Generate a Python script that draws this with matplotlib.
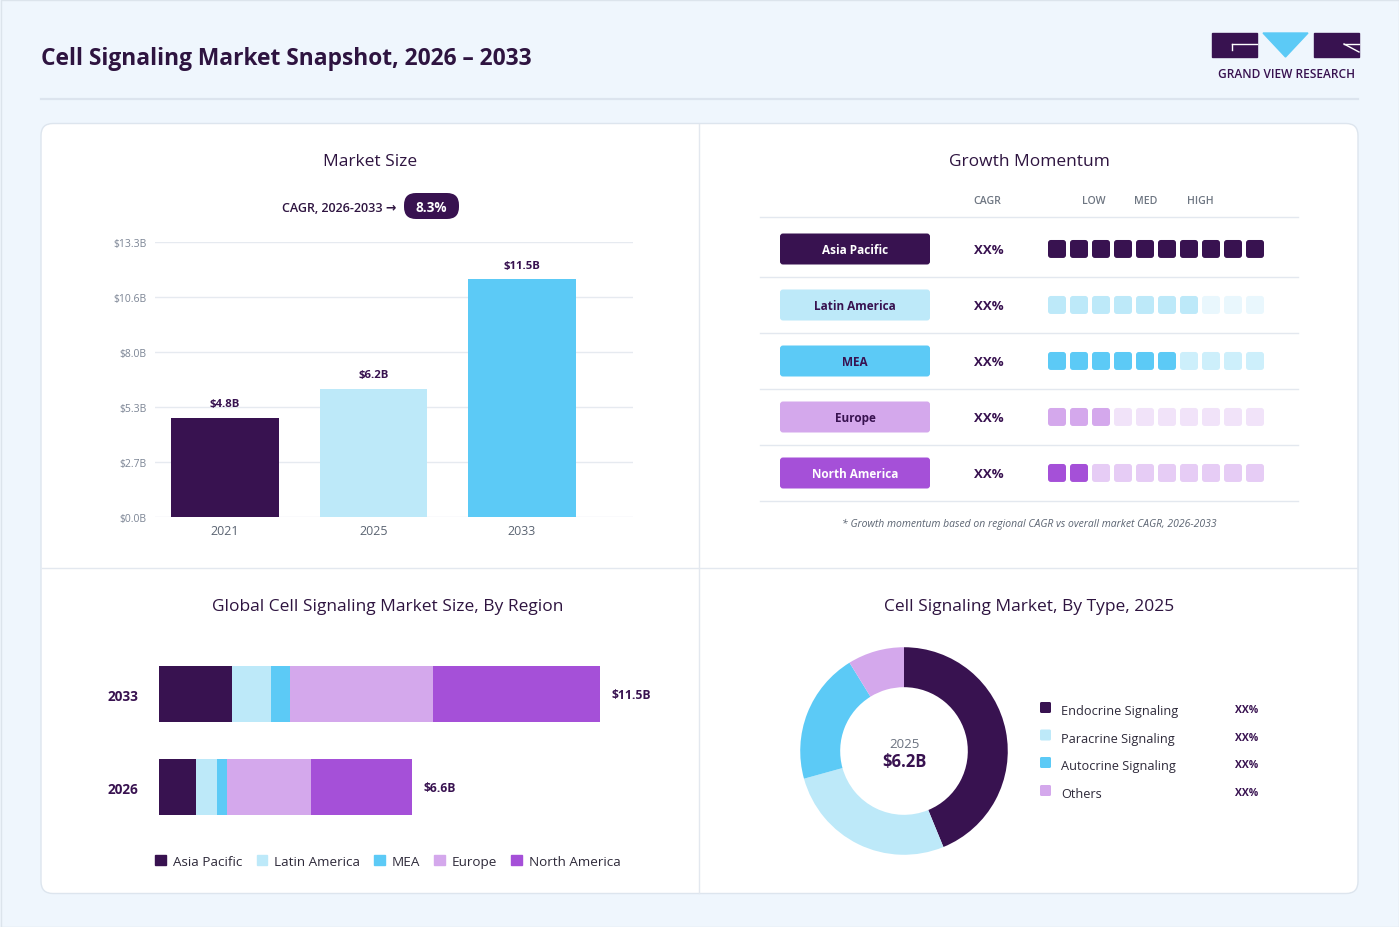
import matplotlib
matplotlib.use("Agg")
import matplotlib.pyplot as plt
from matplotlib.patches import FancyBboxPatch, Rectangle, Polygon, Patch
import numpy as np

# ---------------- data ----------------
years = ["2021", "2025", "2033"]
market_size = [4.8, 6.2, 11.5]
size_labels = ["$4.8B", "$6.2B", "$11.5B"]
ytick_values = [0.0, 2.66, 5.32, 7.98, 10.64, 13.3]
ytick_labels = ["$0.0B", "$2.7B", "$5.3B", "$8.0B", "$10.6B", "$13.3B"]
cagr_label = "CAGR, 2026-2033 \u2192"
cagr_value = "8.3%"

regions = ["Asia Pacific", "Latin America", "MEA", "Europe", "North America"]
momentum_cagr = ["XX%", "XX%", "XX%", "XX%", "XX%"]
momentum_filled = [10, 7, 6, 3, 2]
momentum_total = 10
momentum_headers = ["CAGR", "LOW", "MED", "HIGH"]

region_years = ["2026", "2033"]
asia_pacific = [0.97, 1.90]
latin_america = [0.54, 1.02]
mea = [0.27, 0.49]
europe = [2.19, 3.74]
north_america = [2.63, 4.35]
region_total_labels = ["$6.6B", "$11.5B"]

types = ["Endocrine Signaling", "Paracrine Signaling", "Autocrine Signaling", "Others"]
type_shares = [43.8, 26.9, 20.5, 8.8]
type_labels = ["XX%", "XX%", "XX%", "XX%"]
donut_year = "2025"
donut_total = "$6.2B"

# ---------------- style ----------------
DARK = "#381250"
LIGHT = "#BDE9F9"
SKY = "#5CCAF6"
LAV = "#D4A8EC"
PURP = "#A550D8"
region_colors = [DARK, LIGHT, SKY, LAV, PURP]
faded_colors = ["#D9D0E0", "#E9F7FD", "#CDEFFB", "#F1E3F9", "#E6CCF5"]
pill_text = ["white", DARK, DARK, DARK, "white"]
BG = "#EFF6FD"
TITLE = "#2E1440"
LINE = "#E3E8EF"

plt.rcParams["font.family"] = ["Open Sans", "DejaVu Sans"]

W, H = 1399, 928
fig = plt.figure(figsize=(W / 100, H / 100), dpi=100, facecolor=BG)


def add_ax(x0, y0, x1, y1, z=2):
    a = fig.add_axes([x0 / W, 1 - y1 / H, (x1 - x0) / W, (y1 - y0) / H])
    a.set_zorder(z)
    a.patch.set_alpha(0)
    return a


# background / layout axes in pixel coordinates
bg = fig.add_axes([0, 0, 1, 1])
bg.set_zorder(0)
bg.set_xlim(0, W)
bg.set_ylim(H, 0)
bg.axis("off")

bg.add_patch(Rectangle((0.5, 0.5), W - 1, H - 1, fc="none", ec="#DCE4EC", lw=1))
bg.text(41, 59, "Cell Signaling Market Snapshot, 2026 \u2013 2033", fontsize=16.4,
        fontweight="bold", color=TITLE, va="center", ha="left")
bg.plot([41, 1358], [99.5, 99.5], color="#DCE4EE", lw=1.6)

# logo
bg.add_patch(Rectangle((1212, 34), 45, 24, color=DARK))
bg.plot([1232, 1257], [45, 45], color="white", lw=1.0)
bg.plot([1232, 1232], [45, 51], color="white", lw=1.0)
bg.add_patch(Polygon([(1263, 34), (1308, 34), (1285.5, 58)], closed=True, color=SKY))
bg.add_patch(Rectangle((1314, 34), 45, 24, color=DARK))
bg.plot([1344, 1359], [45, 45], color="white", lw=1.0)
bg.plot([1344, 1359], [45, 53], color="white", lw=1.0)
bg.text(1286, 75, "GRAND VIEW RESEARCH", fontsize=8.6, fontweight="semibold",
        color=DARK, ha="center", va="center")

# card
bg.add_patch(FancyBboxPatch((41, 124.5), 1317, 770, boxstyle="round,pad=0,rounding_size=12",
                            fc="white", ec="#DDE5EE", lw=1))
bg.plot([699, 699], [125, 894], color=LINE, lw=1)
bg.plot([42, 1357], [568.5, 568.5], color=LINE, lw=1)

# panel titles
bg.text(370, 162.5, "Market Size", fontsize=12.5, color=TITLE, ha="center", va="center")
bg.text(1029, 162.5, "Growth Momentum", fontsize=12.5, color=TITLE, ha="center", va="center")
bg.text(388, 607.5, "Global Cell Signaling Market Size, By Region", fontsize=12.5,
        color=TITLE, ha="center", va="center")
bg.text(1029, 607.5, "Cell Signaling Market, By Type, 2025", fontsize=12.5,
        color=TITLE, ha="center", va="center")

# CAGR pill
bg.text(396, 208, cagr_label, fontsize=9.0, color=TITLE, ha="right", va="center",
        fontweight="semibold")
bg.add_patch(FancyBboxPatch((404, 194), 55, 26, boxstyle="round,pad=0,rounding_size=12",
                            fc=DARK, ec="none"))
bg.text(431.5, 208, cagr_value, fontsize=9.8, color="white", fontweight="bold",
        ha="center", va="center")

# ---------------- Market size bar chart ----------------
ax1 = add_ax(155, 243, 633, 518)
xpos = np.arange(len(years))
ax1.bar(xpos, market_size, width=0.727, color=[DARK, LIGHT, SKY], zorder=3)
ax1.set_xlim(-0.471, 2.747)
ax1.set_ylim(0, 13.3)
ax1.set_yticks(ytick_values, ytick_labels)
ax1.set_xticks(xpos, years)
ax1.grid(axis="y", color="#E6EAF0", lw=1, zorder=0)
ax1.set_axisbelow(True)
for s in ax1.spines.values():
    s.set_visible(False)
ax1.tick_params(axis="y", length=0, pad=6, labelsize=7.5, labelcolor="#7B8494")
ax1.tick_params(axis="x", length=0, pad=5, labelsize=9, labelcolor="#5B6472")
for xi, v, lbl in zip(xpos, market_size, size_labels):
    ax1.annotate(lbl, (xi, v), xytext=(0, 6), textcoords="offset points",
                 ha="center", va="bottom", fontsize=8.2, fontweight="bold", color=DARK)

# ---------------- Growth momentum ----------------
row_y = [250 + 56 * i for i in range(len(regions))]
bg.plot([760, 1298], [217.5, 217.5], color=LINE, lw=1)
for i, (reg, y) in enumerate(zip(regions, row_y)):
    bg.add_patch(FancyBboxPatch((780, y - 15.5), 150, 31, boxstyle="round,pad=0,rounding_size=3",
                                fc=region_colors[i], ec="none"))
    bg.text(855, y + 1, reg, fontsize=8.5, fontweight="bold", color=pill_text[i],
            ha="center", va="center")
    bg.text(989, y + 1, momentum_cagr[i], fontsize=9.5, fontweight="bold", color=DARK,
            ha="center", va="center")
    bg.plot([760, 1298], [y + 28, y + 28], color=LINE, lw=1)

for txt, xh in zip(momentum_headers, [987, 1094, 1146, 1200]):
    bg.text(xh, 201, txt, fontsize=7.6, color="#6E7682", ha="center", va="center",
            fontweight="semibold")

ax2 = add_ax(1046, 222, 1266, 502)
ax2.set_xlim(-0.5, momentum_total - 0.5)
ax2.set_ylim(len(regions) - 0.5, -0.5)
ax2.axis("off")
for r in range(len(regions)):
    for c in range(momentum_total):
        col = region_colors[r] if c < momentum_filled[r] else faded_colors[r]
        ax2.add_patch(FancyBboxPatch((c - 0.409, r - 0.161), 0.818, 0.321,
                                     boxstyle="round,pad=0,rounding_size=0.13",
                                     mutation_aspect=22 / 56, fc=col, ec="none"))

bg.text(1029, 524, "* Growth momentum based on regional CAGR vs overall market CAGR, 2026-2033",
        fontsize=7.5, style="italic", color="#5B6472", ha="center", va="center")

# ---------------- Region stacked bars ----------------
ax3 = add_ax(159, 641, 640, 841)
ax3.set_xlim(0, 12.54)
ax3.set_ylim(-0.570, 1.581)
ypos = np.arange(len(region_years))
left = np.zeros(len(region_years))
series = [asia_pacific, latin_america, mea, europe, north_america]
for name, vals, col in zip(regions, series, region_colors):
    ax3.barh(ypos, vals, left=left, height=0.602, color=col, label=name, zorder=3)
    left = left + np.array(vals)
for yi, tot, lbl in zip(ypos, left, region_total_labels):
    ax3.annotate(lbl, (tot, yi), xytext=(8, 0), textcoords="offset points",
                 ha="left", va="center", fontsize=8.7, fontweight="bold", color=DARK)
ax3.set_yticks(ypos, region_years)
ax3.set_xticks([])
for s in ax3.spines.values():
    s.set_visible(False)
ax3.tick_params(axis="y", length=0, pad=15, labelsize=9.8, labelcolor=DARK)
for t in ax3.get_yticklabels():
    t.set_fontweight("bold")
handles = [Patch(color=c, label=n) for n, c in zip(regions, region_colors)]
ax3.legend(handles=handles, loc="center", bbox_to_anchor=(388 / W, 1 - 862.5 / H),
           bbox_transform=fig.transFigure, ncol=5, frameon=False, fontsize=9.7,
           handlelength=0.8, handleheight=0.8, handletextpad=0.5, columnspacing=1.05,
           labelcolor="#2E2A3A")

# ---------------- Donut ----------------
ax4 = add_ax(904 - 110, 752 - 110, 904 + 110, 752 + 110)
ax4.pie(type_shares, colors=[DARK, LIGHT, SKY, LAV], startangle=90, counterclock=False,
        radius=1, wedgeprops=dict(width=0.385, edgecolor="none"))
ax4.set_xlim(-1.06, 1.06)
ax4.set_ylim(-1.06, 1.06)
ax4.text(0, 0.075, donut_year, fontsize=9.5, color="#6B7280", ha="center", va="center")
ax4.text(0, -0.1, donut_total, fontsize=12, fontweight="bold", color=DARK,
         ha="center", va="center")

leg_y = [709, 736.5, 764, 792]
for t, lbl, c, y in zip(types, type_labels, [DARK, LIGHT, SKY, LAV], leg_y):
    bg.add_patch(FancyBboxPatch((1040, y - 6), 11, 11, boxstyle="round,pad=0,rounding_size=1.5",
                                fc=c, ec="none"))
    bg.text(1061, y + 3, t, fontsize=9.2, color="#2E2A3A", ha="left", va="center")
    bg.text(1247, y + 2, lbl, fontsize=7.5, fontweight="bold", color=DARK,
            ha="center", va="center")

fig.savefig("out.png", dpi=100, facecolor=BG)
